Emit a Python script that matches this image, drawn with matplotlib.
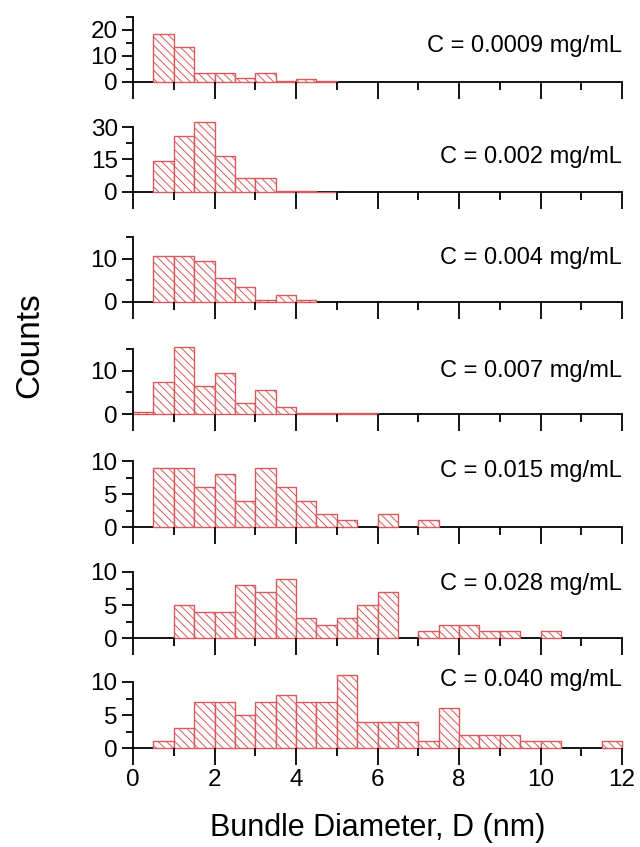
import matplotlib
matplotlib.use("Agg")
import matplotlib.pyplot as plt
from matplotlib.ticker import MultipleLocator

plt.rcParams['font.family'] = ['Liberation Sans', 'DejaVu Sans']
plt.rcParams['hatch.linewidth'] = 0.7

# concentrations (panel labels)
labels = ["C = 0.0009 mg/mL", "C = 0.002 mg/mL", "C = 0.004 mg/mL",
          "C = 0.007 mg/mL", "C = 0.015 mg/mL", "C = 0.028 mg/mL",
          "C = 0.040 mg/mL"]

# histogram bins (left edge, nm) and counts, bin width 0.5 nm
bins_1 = [0.5, 1.0, 1.5, 2.0, 2.5, 3.0, 3.5, 4.0, 4.5]
counts_1 = [18.6, 13.6, 3.5, 3.5, 1.4, 3.5, 0.3, 1.3, 0.3]

bins_2 = [0.5, 1.0, 1.5, 2.0, 2.5, 3.0, 3.5, 4.0, 4.5]
counts_2 = [14.5, 25.7, 32.5, 16.6, 6.3, 6.3, 0.6, 0.5, 0.2]

bins_3 = [0.5, 1.0, 1.5, 2.0, 2.5, 3.0, 3.5, 4.0]
counts_3 = [10.6, 10.6, 9.5, 5.6, 3.5, 0.5, 1.5, 0.4]

bins_4 = [0.0, 0.5, 1.0, 1.5, 2.0, 2.5, 3.0, 3.5, 4.0, 4.5, 5.0, 5.5]
counts_4 = [0.4, 7.4, 15.4, 6.4, 9.5, 2.5, 5.5, 1.6, 0.3, 0.3, 0.3, 0.3]

bins_5 = [0.5, 1.0, 1.5, 2.0, 2.5, 3.0, 3.5, 4.0, 4.5, 5.0, 6.0, 7.0]
counts_5 = [9, 9, 6, 8, 4, 9, 6, 4, 2, 1, 2, 1]

bins_6 = [1.0, 1.5, 2.0, 2.5, 3.0, 3.5, 4.0, 4.5, 5.0, 5.5, 6.0,
          7.0, 7.5, 8.0, 8.5, 9.0, 10.0]
counts_6 = [5, 4, 4, 8, 7, 9, 3, 2, 3, 5, 7, 1, 2, 2, 1, 1, 1]

bins_7 = [0.5, 1.0, 1.5, 2.0, 2.5, 3.0, 3.5, 4.0, 4.5, 5.0, 5.5, 6.0,
          6.5, 7.0, 7.5, 8.0, 8.5, 9.0, 9.5, 10.0, 11.5]
counts_7 = [1, 3, 7, 7, 5, 7, 8, 7, 7, 11, 4, 4, 4, 1, 6, 2, 2, 2, 1, 1, 1]

all_bins = [bins_1, bins_2, bins_3, bins_4, bins_5, bins_6, bins_7]
all_counts = [counts_1, counts_2, counts_3, counts_4, counts_5, counts_6, counts_7]

# y axis: top, major step, minor step
y_top = [25, 30, 15, 15, 10, 10, 10]
y_major = [10, 15, 10, 10, 5, 5, 5]
y_minor = [5, 7.5, 5, 5, 2.5, 2.5, 2.5]

# layout in pixels
W, H = 640, 847
x_left, x_right = 133, 622
p_top = [17, 127, 237, 349, 461, 572, 682]
p_bot = [82, 192, 302, 414, 527, 638, 748]
txt_y = [46, 157, 258, 371, 471, 584, 680]

red = '#d95a5c'

fig = plt.figure(figsize=(6.4, 8.47), dpi=100)

for i in range(7):
    ax = fig.add_axes([x_left / W, 1 - p_bot[i] / H,
                       (x_right - x_left) / W, (p_bot[i] - p_top[i]) / H])
    ax.bar(all_bins[i], all_counts[i], width=0.5, align='edge',
           facecolor='white', edgecolor=red, hatch='\\\\\\\\',
           linewidth=1.0, clip_on=False, zorder=1)
    ax.set_xlim(0, 12)
    ax.set_ylim(0, y_top[i])
    ax.spines['top'].set_visible(False)
    ax.spines['right'].set_visible(False)
    ax.spines['left'].set_linewidth(1.3)
    ax.spines['bottom'].set_linewidth(1.3)
    ax.spines['bottom'].set_zorder(0.5)
    ax.xaxis.set_major_locator(MultipleLocator(2))
    ax.xaxis.set_minor_locator(MultipleLocator(1))
    ax.yaxis.set_major_locator(MultipleLocator(y_major[i]))
    ax.yaxis.set_minor_locator(MultipleLocator(y_minor[i]))
    ax.tick_params(axis='x', which='major', direction='out', length=12, width=1.3)
    ax.tick_params(axis='x', which='minor', direction='out', length=6, width=1.3)
    ax.tick_params(axis='y', which='major', direction='out', length=8, width=1.3)
    ax.tick_params(axis='y', which='minor', direction='out', length=5, width=1.3)
    ax.tick_params(labelsize=17.5, pad=3)
    ax.yaxis.set_major_formatter(plt.FuncFormatter(lambda v, p: "%g" % v))
    if i < 6:
        ax.tick_params(axis='x', labelbottom=False)
    ty = (p_bot[i] - txt_y[i]) / (p_bot[i] - p_top[i])
    ax.text(1.0, ty, labels[i], transform=ax.transAxes, ha='right',
            va='center', fontsize=17, zorder=5)
    ax.patch.set_alpha(0)

fig.text(30 / W, 1 - 345 / H, 'Counts', rotation=90, ha='center',
         va='center', fontsize=24)
fig.text((x_left + x_right) / 2 / W, 1 - 828 / H, 'Bundle Diameter, D (nm)',
         ha='center', va='center', fontsize=22)

fig.savefig('out.png', dpi=100)
